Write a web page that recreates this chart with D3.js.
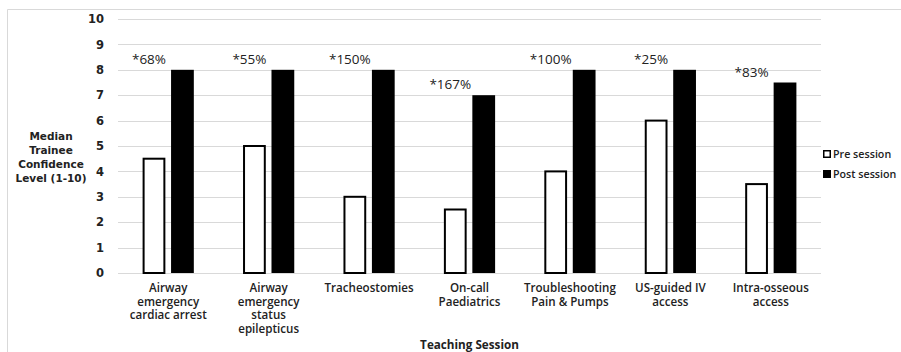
<!DOCTYPE html>
<html>
<head>
<meta charset="utf-8">
<script src="https://cdn.jsdelivr.net/npm/d3@7"></script>
<style>
  html, body { margin: 0; padding: 0; background: #fff; }
  svg { display: block; }
  text { font-family: "Open Sans", "DejaVu Sans", sans-serif; fill: #222; }
</style>
</head>
<body>
<svg id="chart" width="901" height="352"></svg>
<script>
// Teaching sessions (label lines) and median confidence before / after
const categories = [
  ["Airway", "emergency", "cardiac arrest"],
  ["Airway", "emergency", "status", "epilepticus"],
  ["Tracheostomies"],
  ["On-call", "Paediatrics"],
  ["Troubleshooting", "Pain & Pumps"],
  ["US-guided IV", "access"],
  ["Intra-osseous", "access"]
];
const preSession = [4.5, 5, 3, 2.5, 4, 6, 3.5];
const postSession = [8, 8, 8, 7, 8, 8, 7.5];
const changeLabels = ["*68%", "*55%", "*150%", "*167%", "*100%", "*25%", "*83%"];
const yTicks = [0, 1, 2, 3, 4, 5, 6, 7, 8, 9, 10];
const seriesNames = ["Pre session", "Post session"];

const svg = d3.select("#chart");
const margin = { left: 118, right: 80, top: 19, bottom: 79 };
const W = 901, H = 352;

// outer frame
svg.append("path")
  .attr("d", `M7.5,${H} V9.5 H${W}`)
  .attr("fill", "none").attr("stroke", "#d9d9d9").attr("stroke-width", 1);

const x0 = d3.scaleBand()
  .domain(d3.range(categories.length))
  .range([margin.left, W - margin.right])
  .paddingInner(0.49).paddingOuter(0.245);

const x1 = d3.scaleBand()
  .domain(["pre", "post"])
  .range([0, x0.bandwidth()])
  .paddingInner(0.2);

const y = d3.scaleLinear().domain([0, 10]).range([H - margin.bottom, margin.top]);

// gridlines
svg.append("g").selectAll("line").data(yTicks).join("line")
  .attr("x1", margin.left).attr("x2", W - margin.right)
  .attr("y1", d => Math.round(y(d)) + 0.5).attr("y2", d => Math.round(y(d)) + 0.5)
  .attr("stroke", "#d9d9d9").attr("stroke-width", 1);

// y axis labels
const yAxis = svg.append("g")
  .attr("transform", `translate(${margin.left - 14},0)`)
  .call(d3.axisLeft(y).tickValues(yTicks).tickSize(0).tickPadding(0));
yAxis.select(".domain").remove();
yAxis.selectAll("text")
  .attr("font-size", 11.5).attr("font-weight", 700)
  .style("font-family", '"DejaVu Sans", sans-serif').attr("fill", "#333");

const groups = svg.append("g").selectAll("g")
  .data(categories.map((c, i) => i)).join("g")
  .attr("transform", i => `translate(${x0(i)},0)`);

// pre-session bars (outlined)
groups.append("rect")
  .attr("x", i => x1("pre") + 1)
  .attr("y", i => y(preSession[i]))
  .attr("width", x1.bandwidth() - 2)
  .attr("height", i => y(0) - y(preSession[i]))
  .attr("fill", "#fff").attr("stroke", "#000").attr("stroke-width", 2);

// post-session bars (solid)
groups.append("rect")
  .attr("x", x1("post"))
  .attr("y", i => y(postSession[i]))
  .attr("width", x1.bandwidth())
  .attr("height", i => y(0) - y(postSession[i]))
  .attr("fill", "#000");

// percentage change labels
groups.append("text")
  .attr("x", x1("pre") + x1.bandwidth() / 2 - 5)
  .attr("y", i => y(postSession[i]) - 6)
  .attr("text-anchor", "middle")
  .attr("font-size", 13.5)
  .text(i => changeLabels[i]);

// category labels, one text per line
const xLab = svg.append("g").selectAll("g")
  .data(categories.map((c, i) => i)).join("g");
xLab.selectAll("text").data(i => categories[i].map(line => ({ i, line }))).join("text")
  .attr("x", d => x0(d.i) + x0.bandwidth() / 2)
  .attr("y", (d, k) => 292 + k * 13.7)
  .attr("text-anchor", "middle")
  .attr("font-size", 11.6)
  .attr("font-weight", 600)
  .text(d => d.line);

// axis titles
svg.append("text")
  .attr("x", (margin.left + W - margin.right) / 2).attr("y", 349)
  .attr("text-anchor", "middle").attr("font-size", 11.7).attr("font-weight", 700)
  .text("Teaching Session");

svg.append("g").selectAll("text")
  .data(["Median", "Trainee", "Confidence", "Level (1-10)"]).join("text")
  .attr("x", 51).attr("y", (d, k) => 140 + k * 14)
  .attr("text-anchor", "middle").attr("font-size", 10.5).attr("font-weight", 700)
  .style("font-family", '"DejaVu Sans", sans-serif')
  .text(d => d);

// legend
const legend = svg.append("g").attr("transform", "translate(823,0)");
const legendRows = legend.selectAll("g").data(seriesNames).join("g")
  .attr("transform", (d, k) => `translate(0,${154 + k * 20})`);
legendRows.append("rect")
  .attr("x", 0.75).attr("y", -3.25).attr("width", 6.5).attr("height", 6.5)
  .attr("fill", (d, k) => k === 0 ? "#fff" : "#000")
  .attr("stroke", "#000").attr("stroke-width", 1.5);
legendRows.append("text")
  .attr("x", 10).attr("y", 4)
  .attr("font-size", 10.7).attr("font-weight", 600)
  .text(d => d);
</script>
</body>
</html>
